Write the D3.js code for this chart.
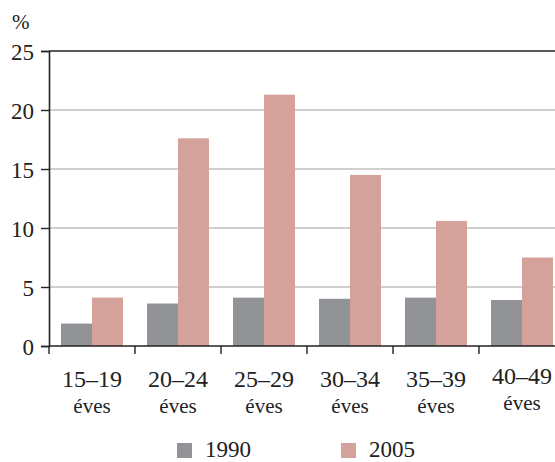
<!DOCTYPE html>
<html>
<head>
<meta charset="utf-8">
<script src="https://cdn.jsdelivr.net/npm/d3@7"></script>
<style>
  body { margin: 0; }
  svg text { font-family: "Liberation Serif", "Times New Roman", Tinos !important; }
</style>
</head>
<body>
<script>
// adatok
const categories = ["15–19", "20–24", "25–29", "30–34", "35–39", "40–49"];
const series = ["1990", "2005"];
const values1990 = [1.9, 3.6, 4.1, 4.0, 4.1, 3.9];
const values2005 = [4.1, 17.6, 21.3, 14.5, 10.6, 7.5];
const yTicks = [0, 5, 10, 15, 20, 25];
const colors = ["#929396", "#d4a29b"];

const width = 555, height = 462;
const plotLeft = 49, plotRight = 565, plotTop = 51, plotBottom = 346;

const svg = d3.select("body").append("svg")
    .attr("width", width)
    .attr("height", height);

const x0 = d3.scaleBand().domain(categories).range([plotLeft, plotRight]);
const x1 = d3.scaleBand().domain(series).range([12, x0.bandwidth() - 12]);
const y = d3.scaleLinear().domain([0, 25]).range([plotBottom, plotTop]);

// szöveg segéd
function label(sel, size) {
    return sel.attr("fill", "#222")
        .style("font-size", size + "px");
}

// rácsvonalak
svg.append("g")
    .selectAll("line")
    .data(yTicks.filter(d => d > 0))
    .enter().append("line")
    .attr("x1", plotLeft).attr("x2", plotRight)
    .attr("y1", d => y(d)).attr("y2", d => y(d))
    .attr("stroke", d => d === 25 ? "#222" : "#a0a0a0")
    .attr("stroke-width", d => d === 25 ? 1.6 : 1.2);

// oszlopok
const rows = categories.map((c, i) => ({ cat: c, vals: [values1990[i], values2005[i]] }));
const groups = svg.append("g").selectAll("g")
    .data(rows)
    .enter().append("g")
    .attr("transform", d => `translate(${x0(d.cat)},0)`);

groups.selectAll("rect")
    .data(d => d.vals.map((v, j) => ({ key: series[j], v: v, j: j })))
    .enter().append("rect")
    .attr("x", d => x1(d.key))
    .attr("width", x1.bandwidth())
    .attr("y", d => y(d.v))
    .attr("height", d => y(0) - y(d.v))
    .attr("fill", d => colors[d.j]);

// y tengely
const yAxis = svg.append("g")
    .attr("transform", `translate(${plotLeft},0)`)
    .call(d3.axisLeft(y).tickValues(yTicks).tickSize(8).tickPadding(7));
yAxis.attr("font-family", null).attr("font-size", null);
yAxis.select(".domain").attr("stroke", "#222").attr("stroke-width", 1.6);
yAxis.selectAll(".tick line").attr("stroke", "#222").attr("stroke-width", 1.4);
label(yAxis.selectAll(".tick text"), 23).attr("dy", "0.35em");

// x tengely
const xAxis = svg.append("g")
    .attr("transform", `translate(0,${plotBottom})`);
xAxis.append("line")
    .attr("x1", plotLeft).attr("x2", plotRight)
    .attr("stroke", "#222").attr("stroke-width", 1.6);
xAxis.selectAll(".xt")
    .data(categories)
    .enter().append("line")
    .attr("class", "xt")
    .attr("x1", d => x0(d)).attr("x2", d => x0(d))
    .attr("y1", 0).attr("y2", 8)
    .attr("stroke", "#222").attr("stroke-width", 1.4);

categories.forEach((c, i) => {
    const cx = x0(c) + x0.bandwidth() / 2;
    const dy = i === 5 ? -3 : 0;
    label(xAxis.append("text"), 24)
        .attr("x", cx).attr("y", 41 + dy)
        .attr("text-anchor", "middle")
        .text(c);
    label(xAxis.append("text"), 21)
        .attr("x", cx).attr("y", 67 + dy)
        .attr("text-anchor", "middle")
        .text("éves");
});

// % felirat
label(svg.append("text"), 21)
    .attr("x", 12).attr("y", 29)
    .text("%");

// jelmagyarázat
const legendX = [177, 341];
series.forEach((s, i) => {
    svg.append("rect")
        .attr("x", legendX[i]).attr("y", 443)
        .attr("width", 15).attr("height", 15)
        .attr("fill", colors[i]);
    label(svg.append("text"), 23)
        .attr("x", legendX[i] + 28).attr("y", 457)
        .text(s);
});
</script>
</body>
</html>
